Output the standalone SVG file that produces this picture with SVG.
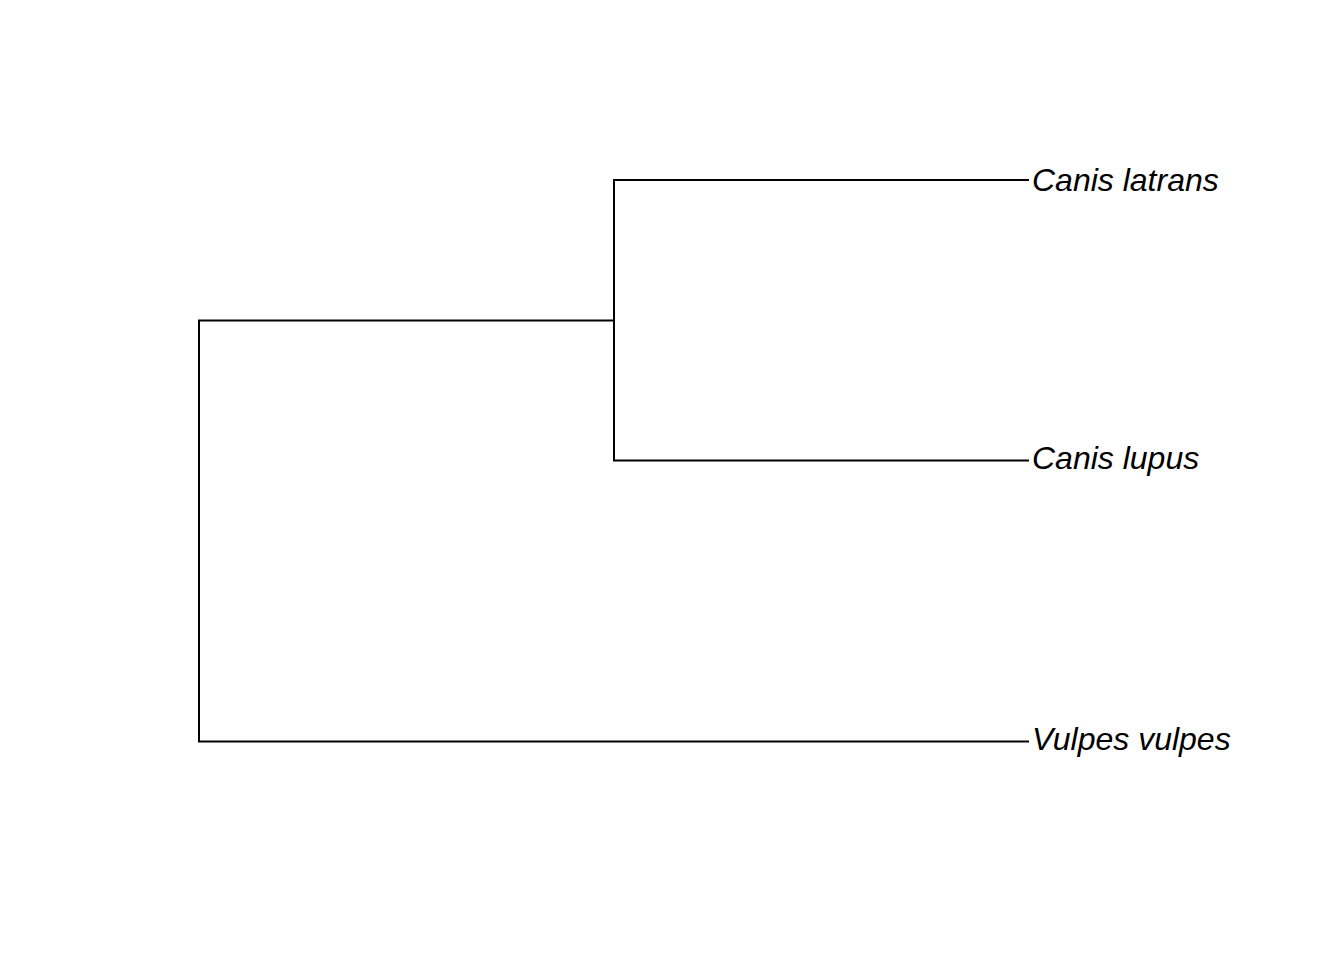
<svg xmlns="http://www.w3.org/2000/svg" width="1344" height="960" viewBox="0 0 1344 960">
<style>
.e{fill:none;stroke:#000;stroke-width:2;stroke-linecap:butt;stroke-linejoin:miter}
.t{font-family:"Liberation Sans",Arial,sans-serif;font-style:italic;font-size:32px;fill:#000}
</style>
<rect width="1344" height="960" fill="#fff"/>
<g id="connectors">
<path class="e" d="M614,320.5 H199 V741.5 H1029"/>
<path class="e" d="M1029,180 H614 V460.5 H1029"/>
</g>
<g id="tip-canis-latrans"><text class="t" x="1032" y="191">Canis latrans</text></g>
<g id="tip-canis-lupus"><text class="t" x="1032" y="469">Canis lupus</text></g>
<g id="tip-vulpes-vulpes"><text class="t" x="1032" y="750">Vulpes vulpes</text></g>
</svg>
